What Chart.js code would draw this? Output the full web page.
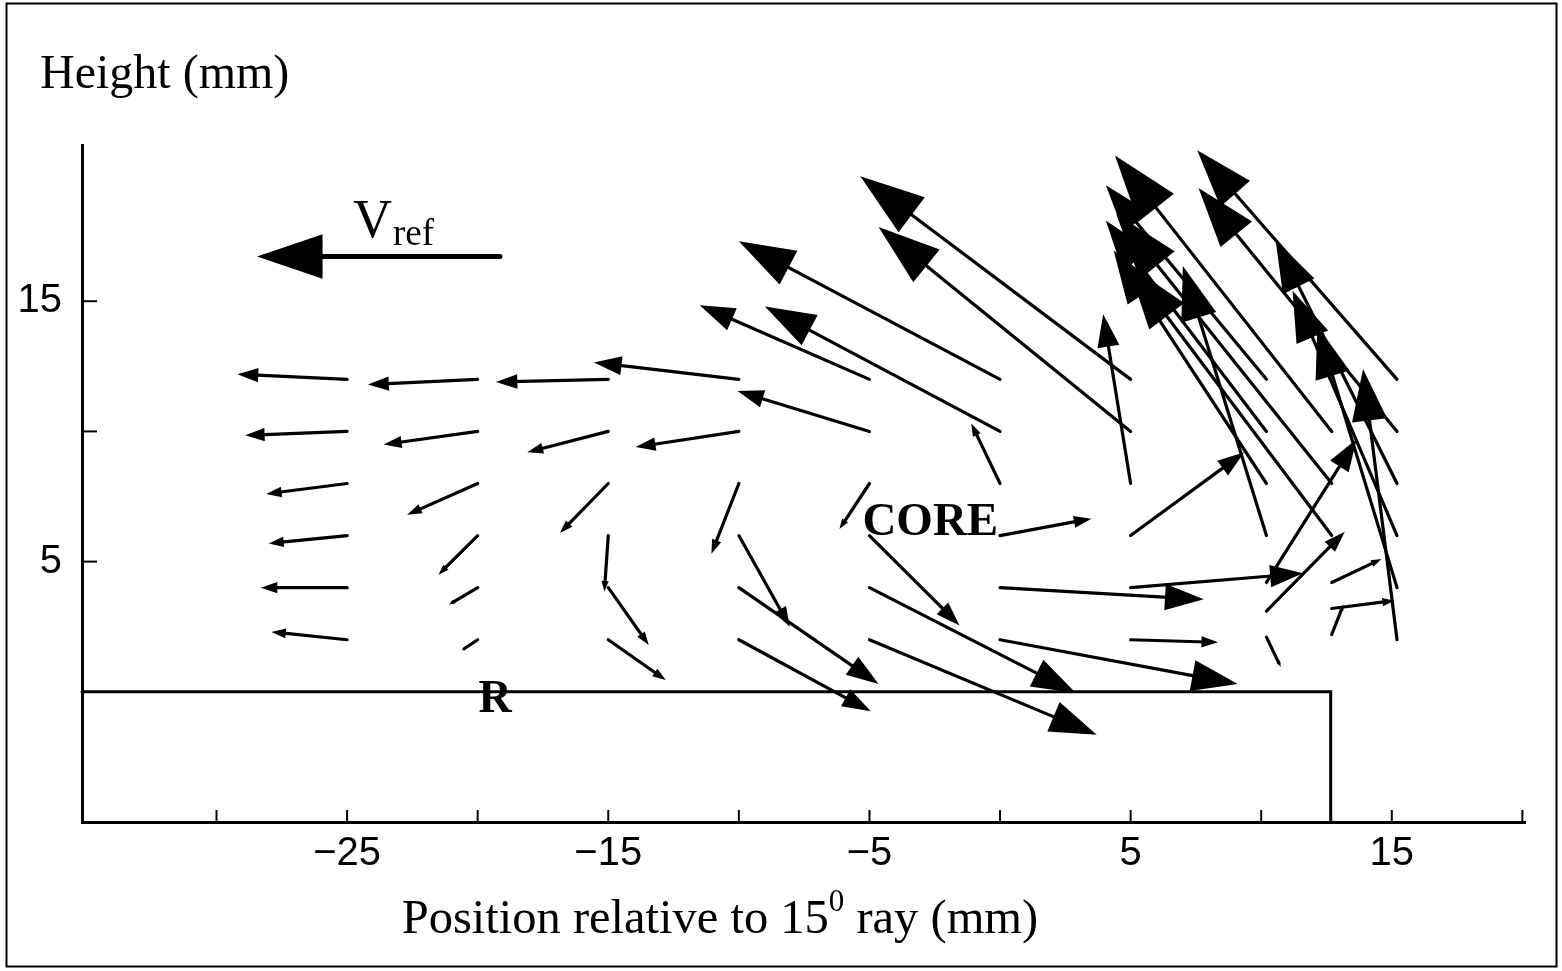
<!DOCTYPE html>
<html>
<head>
<meta charset="utf-8">
<title>Velocity field</title>
<script src="https://cdn.jsdelivr.net/npm/chart.js@4.4.0/dist/chart.umd.min.js"></script>
<style>
	html, body { margin: 0; padding: 0; background: #fff; }
	#chart-area { display: block; }
</style>
</head>
<body>
<canvas id="chart-area" width="1562" height="971"></canvas>
<script>
// 刻度
var xTicks = [-30, -25, -20, -15, -10, -5, 0, 5, 10, 15, 20];
var xLabels = [-25, -15, -5, 5, 15];
var yTicks = [5, 10, 15];
var yLabels = [5, 15];

// 测量列的位置 (mm)
var colX = [-25, -20, -15, -10, -5, 0, 5, 10.2, 12.7, 15.2];
// 每列的高度
var colY = [
	[12, 10, 8, 6, 4, 2],
	[12, 10, 8, 6, 4, 2],
	[12, 10, 8, 6, 4, 2],
	[12, 10, 8, 6, 4, 2],
	[12, 10, 8, 6, 4, 2],
	[12, 10, 8, 6, 4, 2],
	[12, 10, 8, 6, 4, 2],
	[12, 10, 8, 6, 4.2, 3.1, 2.1],
	[10, 8, 6, 4.2, 3.2, 2.2],
	[12, 10, 8, 6, 4, 2]
];
// 水平速度分量
var colU = [
	[-4.2, -3.9, -3.1, -3.0, -3.3, -2.9],
	[-4.2, -3.6, -2.7, -1.5, -1.1, -0.6],
	[-4.3, -3.1, -1.85, -0.15, 1.55, 2.2],
	[-5.55, -3.95, -1.05, 1.95, 5.35, 5.05],
	[-6.5, -5.05, -1.15, 3.45, 7.9, 8.7],
	[-10.0, -9.0, -1.1, 3.5, 7.8, 9.1],
	[-10.35, -9.65, -1.05, 4.35, 6.6, 3.35],
	[-6.15, -6.15, -5.85, -3.2, 3.45, 3.0, 0.55],
	[-8.3, -8.25, -7.8, 1.9, 2.4, 0.45],
	[-7.65, -7.6, -4.65, -4.0, -3.05, -1.3]
];
// 垂直速度分量
var colV = [
	[0.2, -0.15, -0.4, -0.3, 0, 0.3],
	[-0.2, -0.5, -1.2, -1.5, -0.65, -0.4],
	[-0.1, -0.8, -1.9, -2.15, -2.2, -1.55],
	[0.65, -0.6, -2.7, -3.5, -3.7, -2.75],
	[2.85, 1.55, -1.75, -3.45, -4.05, -3.65],
	[5.3, 4.8, 2.3, 0.65, -0.45, -1.7],
	[7.8, 7.85, 6.5, 3.2, 0.55, -0.1],
	[7.45, 8.1, 8.95, 10.35, 5.5, 3.05, -1.15],
	[10.6, 10.35, 10.4, 0.9, 0.3, 1.15],
	[8.8, 9.35, 9.35, 9.4, 10.05, 10.4]
];

// 参考速度箭头
var vrefX = -19.15;
var vrefY = 16.72;
var vrefU = -9.3;

// 底座 (R) 的右端
var floorEndX = 12.66;
var floorTopY = 0;

var points = [];
for (var c = 0; c < colX.length; c++) {
	for (var r = 0; r < colY[c].length; r++) {
		points.push({ x: colX[c], y: colY[c][r], u: colU[c][r], v: colV[c][r] });
	}
}

var serif = '"Liberation Serif", "Times New Roman", serif';
var sans = '"Liberation Sans", Arial, sans-serif';

function arrow(ctx, x0, y0, x1, y1, headRatio, lw) {
	var dx = x1 - x0, dy = y1 - y0;
	var len = Math.sqrt(dx * dx + dy * dy);
	if (len < 1) return;
	var ux = dx / len, uy = dy / len;
	var hl = len * headRatio, hw = hl * 0.34;
	var bx = x1 - ux * hl, by = y1 - uy * hl;
	ctx.lineWidth = lw;
	ctx.beginPath();
	ctx.moveTo(x0, y0);
	ctx.lineTo(bx + ux * hl * 0.3, by + uy * hl * 0.3);
	ctx.stroke();
	ctx.beginPath();
	ctx.moveTo(x1, y1);
	ctx.lineTo(bx - uy * hw, by + ux * hw);
	ctx.lineTo(bx + uy * hw, by - ux * hw);
	ctx.closePath();
	ctx.fill();
}

var quiver = {
	id: 'quiver',
	afterDatasetsDraw: function (chart) {
		var ctx = chart.ctx;
		var xs = chart.scales.x, ys = chart.scales.y;
		var area = chart.chartArea;
		var meta = chart.getDatasetMeta(0);
		ctx.save();
		ctx.strokeStyle = '#000';
		ctx.fillStyle = '#000';
		ctx.lineCap = 'round';

		// 底座
		var fx = xs.getPixelForValue(floorEndX);
		var fy = ys.getPixelForValue(floorTopY);
		ctx.lineWidth = 3;
		ctx.beginPath();
		ctx.moveTo(area.left, fy);
		ctx.lineTo(fx, fy);
		ctx.lineTo(fx, area.bottom);
		ctx.stroke();

		// 速度矢量
		for (var i = 0; i < points.length; i++) {
			var p = points[i];
			var el = meta.data[i];
			var x1 = xs.getPixelForValue(p.x + p.u);
			var y1 = ys.getPixelForValue(p.y + p.v);
			arrow(ctx, el.x, el.y, x1, y1, 0.19, 3.2);
		}

		// Vref
		var vx = xs.getPixelForValue(vrefX), vy = ys.getPixelForValue(vrefY);
		arrow(ctx, vx, vy, xs.getPixelForValue(vrefX + vrefU), vy, 0.27, 5);

		// 向内的刻度线
		ctx.lineWidth = 2;
		ctx.lineCap = 'butt';
		xTicks.forEach(function (t) {
			var px = xs.getPixelForValue(t);
			ctx.beginPath();
			ctx.moveTo(px, area.bottom);
			ctx.lineTo(px, area.bottom - 12);
			ctx.stroke();
		});
		yTicks.forEach(function (t) {
			var py = ys.getPixelForValue(t);
			ctx.beginPath();
			ctx.moveTo(area.left, py);
			ctx.lineTo(area.left + 15, py);
			ctx.stroke();
		});

		// 文字
		ctx.textBaseline = 'alphabetic';
		ctx.textAlign = 'left';
		ctx.font = '48px ' + serif;
		ctx.fillText('Height (mm)', 40, 88);

		ctx.font = '54px ' + serif;
		ctx.fillText('V', 353, 237);
		ctx.font = '37px ' + serif;
		ctx.fillText('ref', 393, 245);

		ctx.font = 'bold 47px ' + serif;
		ctx.fillText('CORE', xs.getPixelForValue(-5.27), ys.getPixelForValue(6.03));
		ctx.textAlign = 'center';
		ctx.font = 'bold 46px ' + serif;
		ctx.fillText('R', xs.getPixelForValue(-19.33), ys.getPixelForValue(-0.78));

		// x 轴标题（带上标）
		ctx.textAlign = 'left';
		ctx.font = '48.5px ' + serif;
		var t1 = 'Position relative to 15', t2 = '0', t3 = ' ray (mm)';
		var w1 = ctx.measureText(t1).width;
		ctx.font = '31px ' + serif;
		var w2 = ctx.measureText(t2).width;
		ctx.font = '48.5px ' + serif;
		var w3 = ctx.measureText(t3).width;
		var sx = 720 - (w1 + w2 + w3) / 2;
		ctx.fillText(t1, sx, 933);
		ctx.font = '31px ' + serif;
		ctx.fillText(t2, sx + w1, 911);
		ctx.font = '48.5px ' + serif;
		ctx.fillText(t3, sx + w1 + w2, 933);

		// 外框
		ctx.lineWidth = 2;
		ctx.strokeRect(6.5, 3.5, 1550, 963);
		ctx.restore();
	}
};

var config = {
	type: 'scatter',
	data: {
		datasets: [{
			data: points,
			pointRadius: 0,
			pointHoverRadius: 0,
			showLine: false
		}]
	},
	options: {
		responsive: false,
		animation: false,
		events: [],
		layout: { padding: { top: 145, right: 37, left: 0, bottom: 0 } },
		plugins: {
			legend: { display: false },
			tooltip: { enabled: false }
		},
		scales: {
			x: {
				type: 'linear',
				min: -35.15,
				max: 20.1,
				afterBuildTicks: function (s) { s.ticks = xTicks.map(function (v) { return { value: v }; }); },
				afterFit: function (s) { s.height = 149; },
				grid: { display: false, drawTicks: false },
				border: { display: true, color: '#000', width: 3 },
				ticks: {
					autoSkip: false,
					maxRotation: 0,
					padding: 8,
					color: '#000',
					font: { family: sans, size: 40 },
					callback: function (v) {
						if (xLabels.indexOf(v) < 0) return '';
						return v < 0 ? '\u2212' + Math.abs(v) : String(v);
					}
				}
			},
			y: {
				type: 'linear',
				min: -5,
				max: 21,
				afterBuildTicks: function (s) { s.ticks = yTicks.map(function (v) { return { value: v }; }); },
				afterFit: function (s) { s.width = 82; },
				grid: { display: false, drawTicks: false },
				border: { display: true, color: '#000', width: 3 },
				ticks: {
					autoSkip: false,
					padding: 20,
					color: '#000',
					font: { family: sans, size: 40 },
					callback: function (v) {
						return yLabels.indexOf(v) < 0 ? '' : String(v);
					}
				}
			}
		}
	},
	plugins: [quiver]
};

window['loadChart'] = function () {
	var ctx = document.getElementById('chart-area').getContext('2d');
	window.myQuiver = new Chart(ctx, config);
};
loadChart();
</script>
</body>
</html>
